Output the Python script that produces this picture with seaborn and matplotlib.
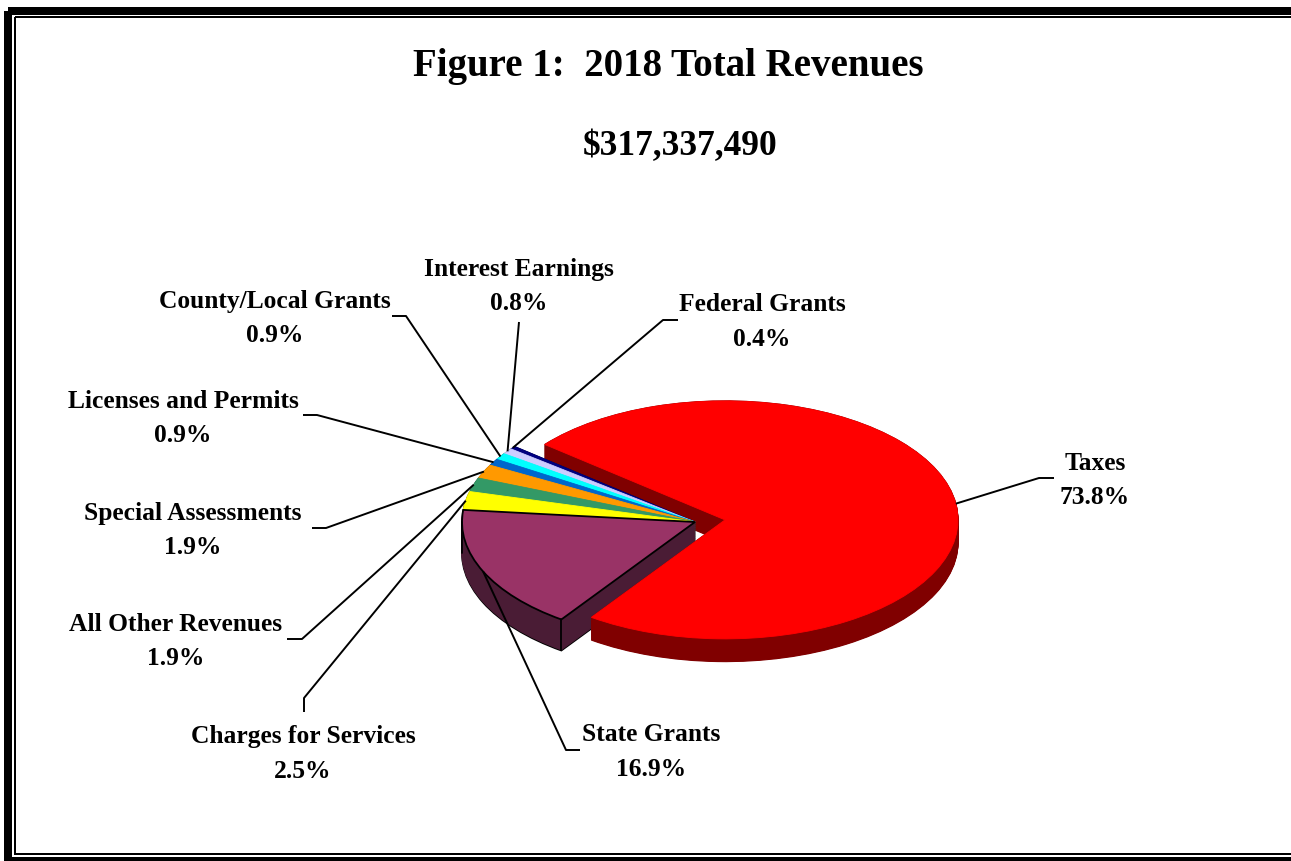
import matplotlib.pyplot as plt
import numpy as np
import seaborn as sns
from matplotlib.patches import Rectangle

sns.set_theme(style="white")
plt.rcParams["font.family"] = ["Liberation Serif", "DejaVu Serif"]
plt.rcParams["font.weight"] = "bold"
plt.rcParams["text.color"] = "black"

W_PX, H_PX = 1291, 861

# =====================================================================
# DATA
# =====================================================================
categories = ["Taxes", "Federal Grants", "Interest Earnings", "County/Local Grants",
              "Licenses and Permits", "Special Assessments", "All Other Revenues",
              "Charges for Services", "State Grants"]
shares = [73.8, 0.4, 0.8, 0.9, 0.9, 1.9, 1.9, 2.5, 16.9]
title = "Figure 1:  2018 Total Revenues"
subtitle = "$317,337,490"

top_colors = ["#FF0000", "#000080", "#CCCCFF", "#00FFFF", "#0066CC",
              "#FF9900", "#339966", "#FFFF00", "#993366"]
side_colors = ["#800000", "#000040", "#66667F", "#008080", "#003366",
               "#804C00", "#1A4D33", "#808000", "#4A1C35"]

# =====================================================================
# LAYOUT (pixels of the picture, y going down)
# =====================================================================
explode = [0.13, 0, 0, 0, 0, 0, 0, 0, 0]
start_angle = 235
depth_px = [23, 23, 23, 23, 23, 23, 23, 23, 31]

# text centre x, name y, percent y, elbow point, stub end
label_layout = {
    "Taxes": (1095, 462, 496, (1039, 478), (1054, 478)),
    "Federal Grants": (762, 303, 338, (663, 320), (678, 320)),
    "Interest Earnings": (519, 268, 302, (519, 322), (519, 322)),
    "County/Local Grants": (275, 300, 334, (406, 316), (392, 316)),
    "Licenses and Permits": (183, 400, 434, (317, 415), (303, 415)),
    "Special Assessments": (193, 512, 546, (326, 528), (312, 528)),
    "All Other Revenues": (176, 623, 657, (302, 639), (287, 639)),
    "Charges for Services": (303, 735, 770, (304, 698), (304, 712)),
    "State Grants": (651, 733, 768, (566, 750), (580, 750)),
}

fig = plt.figure(figsize=(W_PX / 100, H_PX / 100), dpi=100)
fig.patch.set_facecolor("white")

# pie axes: ellipse with rx=233 px, ry=119 px, centred at (695, 522)
rx, ry = 233, 119
cx, cy = 695, 522
span = 2.6
ax = fig.add_axes([(cx - rx * span / 2) / W_PX, (H_PX - cy - ry * span / 2) / H_PX,
                   rx * span / W_PX, ry * span / H_PX])

# side walls: stack of darker pies shifted down
n_layers = 45
max_depth = max(depth_px) / ry
for k in range(n_layers + 1):
    off = -max_depth + max_depth * k / n_layers
    cols = [c if -off <= d / ry + 1e-9 else (0, 0, 0, 0)
            for c, d in zip(side_colors, depth_px)]
    wedges, _ = ax.pie(shares, colors=cols, explode=explode, startangle=start_angle,
                       counterclock=True, center=(0, off), radius=1,
                       wedgeprops=dict(linewidth=0.8))
    for w, c in zip(wedges, cols):
        w.set_edgecolor(c)
    if k == 0:
        wedges[-1].set_edgecolor("black")
        wedges[-1].set_linewidth(1.3)

# top faces
top_wedges, _ = ax.pie(shares, colors=top_colors, explode=explode, startangle=start_angle,
                       counterclock=True, radius=1, wedgeprops=dict(linewidth=0.6))
for w, c in zip(top_wedges, top_colors):
    w.set_edgecolor(c)
top_wedges[-1].set_edgecolor("black")
top_wedges[-1].set_linewidth(1.3)

# vertical black edges of the State Grants wall
sg = top_wedges[-1]
sg_depth = depth_px[-1] / ry
for ang in [180, sg.theta2]:
    x0 = sg.center[0] + np.cos(np.radians(ang))
    y0 = sg.center[1] + np.sin(np.radians(ang))
    ax.plot([x0, x0], [y0, y0 - sg_depth], color="black", lw=1.3, zorder=5)

ax.set_aspect("auto")
ax.set_xlim(-span / 2, span / 2)
ax.set_ylim(-span / 2, span / 2)
ax.axis("off")

# =====================================================================
# OVERLAY: texts, leader lines, border
# =====================================================================
ov = fig.add_axes([0, 0, 1, 1])
ov.set_xlim(0, W_PX)
ov.set_ylim(H_PX, 0)
ov.axis("off")
ov.patch.set_alpha(0)

ov.text(668, 76, title, ha="center", va="baseline", fontsize=28, fontweight="bold")
ov.text(680, 155, subtitle, ha="center", va="baseline", fontsize=25.5, fontweight="bold")

to_ov = ov.transData.inverted()
for w, name, val in zip(top_wedges, categories, shares):
    tx, ty_name, ty_pct, elbow, stub = label_layout[name]
    mid = np.radians((w.theta1 + w.theta2) / 2)
    px = w.center[0] + w.r * np.cos(mid)
    py = w.center[1] + w.r * np.sin(mid)
    ax_pt = to_ov.transform(ax.transData.transform((px, py)))
    ov.plot([ax_pt[0], elbow[0], stub[0]], [ax_pt[1], elbow[1], stub[1]],
            color="black", lw=1.4, solid_capstyle="butt")
    ov.text(tx, ty_name + 8, name, ha="center", va="baseline", fontsize=18.4, fontweight="bold")
    ov.text(tx, ty_pct + 8, f"{val:.1f}%", ha="center", va="baseline", fontsize=18.4,
            fontweight="bold")

# double frame
ov.add_patch(Rectangle((8, 10.5), 1300, 850, fill=False, lw=8 * 0.72, edgecolor="black"))
ov.add_patch(Rectangle((14.5, 17), 1300, 836.5, fill=False, lw=2 * 0.72, edgecolor="black"))

fig.savefig("out.png", dpi=100)
plt.close(fig)
